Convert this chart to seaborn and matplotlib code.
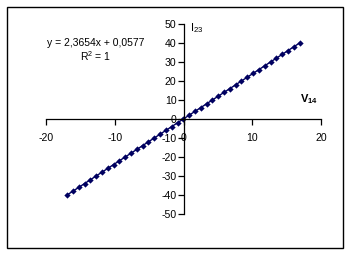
import matplotlib
matplotlib.use("Agg")
import matplotlib.pyplot as plt
import seaborn as sns
import pandas as pd
from matplotlib.patches import Rectangle

# Data (V14 vs I23)
v14 = [-16.94, -16.09, -15.24, -14.40, -13.55, -12.71, -11.86, -11.02, -10.17, -9.33,
       -8.48, -7.63, -6.79, -5.94, -5.10, -4.25, -3.41, -2.56, -1.72, -0.87,
       -0.02, 0.82, 1.67, 2.51, 3.36, 4.20, 5.05, 5.89, 6.74, 7.59,
       8.43, 9.28, 10.12, 10.97, 11.81, 12.66, 13.50, 14.35, 15.20, 16.04, 16.89]
i23 = [-40, -38, -36, -34, -32, -30, -28, -26, -24, -22,
       -20, -18, -16, -14, -12, -10, -8, -6, -4, -2,
       0, 2, 4, 6, 8, 10, 12, 14, 16, 18,
       20, 22, 24, 26, 28, 30, 32, 34, 36, 38, 40]
x_ticks = [-20, -10, 0, 10, 20]
y_ticks = [-50, -40, -30, -20, -10, 0, 10, 20, 30, 40, 50]
equation = "y = 2,3654x + 0,0577"
r2_text = r"R$^{2}$ = 1"

sns.set_style("ticks")
plt.rcParams['font.family'] = ['Liberation Sans', 'DejaVu Sans']
plt.rcParams['mathtext.fontset'] = 'custom'
plt.rcParams['mathtext.rm'] = 'Liberation Sans'
plt.rcParams['mathtext.bf'] = 'Liberation Sans:bold'
plt.rcParams['text.color'] = 'black'
plt.rcParams['xtick.color'] = 'black'
plt.rcParams['ytick.color'] = 'black'

df = pd.DataFrame({"V14": v14, "I23": i23})

fig = plt.figure(figsize=(3.52, 2.58), dpi=100)
ax = fig.add_axes([46/352, 1-214/258, (321-46)/352, (214-24)/258])

sns.lineplot(data=df, x="V14", y="I23", ax=ax, color="#000060", linewidth=1.0,
             marker="D", markersize=3.2, markeredgewidth=0, markerfacecolor="#000060")

ax.set_xlim(-20, 20)
ax.set_ylim(-50, 50)
ax.set_xticks(x_ticks)
ax.set_yticks(y_ticks)
ax.set_xlabel("")
ax.set_ylabel("")

ax.spines['left'].set_position(('data', 0))
ax.spines['bottom'].set_position(('data', 0))
ax.spines['top'].set_visible(False)
ax.spines['right'].set_visible(False)
for s in ['left', 'bottom']:
    ax.spines[s].set_color('black')
    ax.spines[s].set_linewidth(0.9)

ax.tick_params(axis='x', bottom=True, direction='out', length=4, width=0.9, pad=6,
               labelsize=7.6, color='black', labelcolor='black')
ax.tick_params(axis='y', left=True, direction='out', length=4, width=0.9, pad=1,
               labelsize=7.6, color='black', labelcolor='black')
ax.set_xticklabels([str(t) for t in x_ticks])
ax.set_yticklabels([str(t) for t in y_ticks])

ax.text(0.9, 48, r"I$_{23}$", fontsize=8, ha='left', va='center', color='black')
ax.text(17.0, 10.5, r"$\mathbf{V}_{\mathbf{14}}$", fontsize=8, ha='left', va='center', color='black')
ax.text(-12.8, 40, equation, fontsize=7.5, ha='center', va='center', color='black')
ax.text(-12.8, 33, r2_text, fontsize=7.5, ha='center', va='center', color='black')

fig.patches.append(Rectangle((7/352, 1-248/258), (343-7)/352, (248-7)/258,
                             transform=fig.transFigure, fill=False,
                             edgecolor='black', linewidth=1.0))

fig.savefig("out.png", dpi=100)
